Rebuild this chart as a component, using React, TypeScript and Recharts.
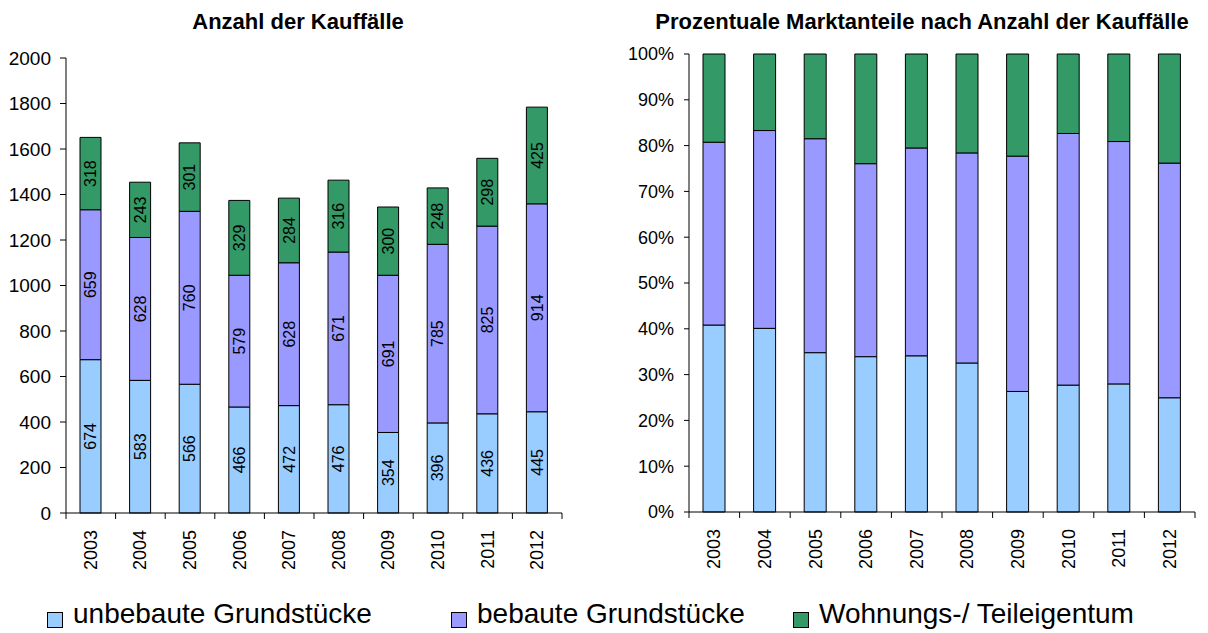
import React from 'react'
import { BarChart, Bar, XAxis, YAxis, LabelList } from 'recharts'

const years = ['2003', '2004', '2005', '2006', '2007', '2008', '2009', '2010', '2011', '2012']
const unbebaut = [674, 583, 566, 466, 472, 476, 354, 396, 436, 445]
const bebaut = [659, 628, 760, 579, 628, 671, 691, 785, 825, 914]
const wohnung = [318, 243, 301, 329, 284, 316, 300, 248, 298, 425]

const seriesKeys = ['unbebaut', 'bebaut', 'wohnung']
const seriesNames = ['unbebaute Grundstücke', 'bebaute Grundstücke', 'Wohnungs-/ Teileigentum']
const seriesColors = ['#99CCFF', '#9999FF', '#339966']

const countTicks = [0, 200, 400, 600, 800, 1000, 1200, 1400, 1600, 1800, 2000]
const shareTicks = [0, 0.1, 0.2, 0.3, 0.4, 0.5, 0.6, 0.7, 0.8, 0.9, 1]

const data = years.map((year, i) => ({
  year,
  unbebaut: unbebaut[i],
  bebaut: bebaut[i],
  wohnung: wohnung[i],
}))

const FONT = '"Liberation Sans", Arial, sans-serif'

// category ticks sit between the bars, like in Excel
function YearTick(props: any) {
  const { x, y, payload, index, step, fontSize } = props
  const last = index === years.length - 1
  return (
    <g>
      <line x1={x - step / 2} y1={y - 8} x2={x - step / 2} y2={y - 2} stroke="#000" />
      {last && <line x1={x + step / 2} y1={y - 8} x2={x + step / 2} y2={y - 2} stroke="#000" />}
      <text
        x={0}
        y={0}
        transform={`translate(${x}, ${y + 9}) rotate(-90)`}
        textAnchor="end"
        dominantBaseline="central"
        fontSize={fontSize}
        fontFamily={FONT}
        fill="#000"
      >
        {payload.value}
      </text>
    </g>
  )
}

const titleStyle: React.CSSProperties = {
  position: 'absolute',
  fontFamily: FONT,
  fontWeight: 'bold',
  fontSize: 22,
  lineHeight: '22px',
  color: '#000',
  whiteSpace: 'nowrap',
  transform: 'translateX(-50%)',
}

export default function App() {
  return (
    <div style={{ position: 'absolute', left: 0, top: 0, width: 1208, height: 633, background: '#fff' }}>
      <div style={{ ...titleStyle, left: 298, top: 11 }}>Anzahl der Kauffälle</div>
      <div style={{ ...titleStyle, left: 922, top: 11 }}>Prozentuale Marktanteile nach Anzahl der Kauffälle</div>

      <div style={{ position: 'absolute', left: 0, top: 0 }}>
        <BarChart width={600} height={633} data={data} margin={{ top: 58, right: 38, bottom: 70, left: 10 }}>
          <XAxis
            dataKey="year"
            height={50}
            interval={0}
            tickLine={false}
            axisLine={{ stroke: '#000' }}
            tick={<YearTick step={49.6} fontSize={18} />}
          />
          <YAxis
            width={56}
            domain={[0, 2000]}
            ticks={countTicks}
            interval={0}
            tickSize={6}
            tickMargin={9}
            tickLine={{ stroke: '#000' }}
            axisLine={{ stroke: '#000' }}
            tick={{ fontSize: 19, fill: '#000', fontFamily: FONT }}
          />
          {seriesKeys.map((k, i) => (
            <Bar
              key={k}
              dataKey={k}
              name={seriesNames[i]}
              stackId="a"
              fill={seriesColors[i]}
              stroke="#000"
              strokeWidth={1}
              barSize={21}
              isAnimationActive={false}
            >
              <LabelList
                dataKey={k}
                position="center"
                angle={-90}
                fontSize={16}
                fontFamily={FONT}
                fill="#000"
              />
            </Bar>
          ))}
        </BarChart>
      </div>

      <div style={{ position: 'absolute', left: 600, top: 0 }}>
        <BarChart
          width={608}
          height={633}
          data={data}
          stackOffset="expand"
          margin={{ top: 54, right: 13, bottom: 71, left: 10 }}
        >
          <XAxis
            dataKey="year"
            height={50}
            interval={0}
            tickLine={false}
            axisLine={{ stroke: '#000' }}
            tick={<YearTick step={50.6} fontSize={18} />}
          />
          <YAxis
            width={79}
            domain={[0, 1]}
            ticks={shareTicks}
            interval={0}
            tickSize={5}
            tickMargin={10}
            tickLine={{ stroke: '#000' }}
            axisLine={{ stroke: '#000' }}
            tickFormatter={(v: number) => `${Math.round(v * 100)}%`}
            tick={{ fontSize: 18, fill: '#000', fontFamily: FONT }}
          />
          {seriesKeys.map((k, i) => (
            <Bar
              key={k}
              dataKey={k}
              name={seriesNames[i]}
              stackId="a"
              fill={seriesColors[i]}
              stroke="#000"
              strokeWidth={1}
              barSize={22}
              isAnimationActive={false}
            />
          ))}
        </BarChart>
      </div>

      {/* shared legend under both charts */}
      {seriesNames.map((name, i) => (
        <React.Fragment key={name}>
          <div
            style={{
              position: 'absolute',
              left: [47, 451, 793][i],
              top: 612,
              width: 14,
              height: 14,
              background: seriesColors[i],
              border: '1px solid #000',
            }}
          />
          <div
            style={{
              position: 'absolute',
              left: [73, 477, 819][i],
              top: 596,
              fontFamily: FONT,
              fontSize: 28,
              lineHeight: '36px',
              color: '#000',
              whiteSpace: 'nowrap',
            }}
          >
            {name}
          </div>
        </React.Fragment>
      ))}
    </div>
  )
}
